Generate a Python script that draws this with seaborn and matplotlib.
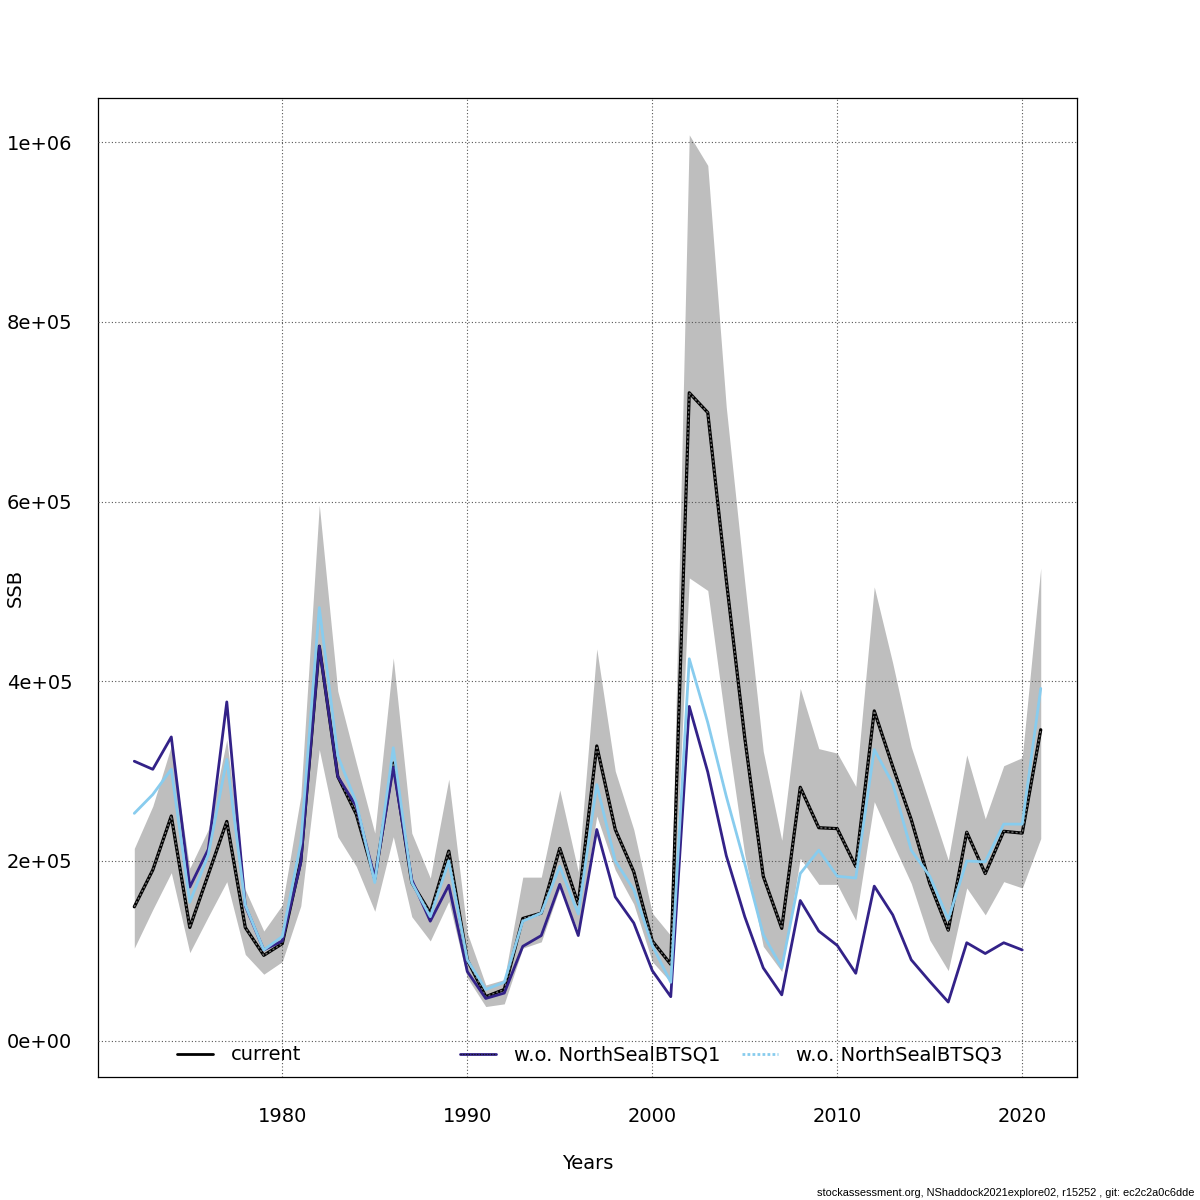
import numpy as np
import seaborn as sns
import matplotlib.pyplot as plt
from matplotlib.lines import Line2D
from matplotlib.legend import Legend

# SSB por año: estimación actual con intervalo, y dos corridas sin índices de la encuesta
years = list(range(1972, 2022))

current = [149000, 190000, 250000, 126000, 185000, 244000, 126000, 95000, 108000, 200000,
           439000, 294000, 252000, 180000, 309000, 176000, 142000, 211000, 90000, 49000,
           57000, 136000, 142000, 214000, 152000, 328000, 235000, 188000, 111000, 85000,
           721000, 699000, 513000, 337000, 183000, 125000, 282000, 237000, 236000, 194000,
           367000, 305000, 246000, 175000, 123000, 232000, 186000, 233000, 231000, 346000]

upper = [214000, 261000, 328000, 192000, 235000, 335000, 168000, 122000, 151000, 272000,
         596000, 389000, 309000, 231000, 426000, 231000, 181000, 291000, 120000, 62000,
         68000, 182000, 182000, 279000, 188000, 436000, 300000, 235000, 142000, 117000,
         1008000, 974000, 705000, 510000, 322000, 223000, 392000, 325000, 320000, 283000,
         505000, 420000, 327000, 264000, 201000, 318000, 247000, 306000, 315000, 526000]

lower = [103000, 146000, 187000, 98000, 138000, 177000, 96000, 74000, 88000, 150000,
         324000, 227000, 194000, 144000, 227000, 138000, 111000, 155000, 70000, 38000,
         41000, 103000, 110000, 170000, 122000, 250000, 190000, 152000, 88000, 65000,
         515000, 501000, 348000, 207000, 105000, 77000, 203000, 174000, 174000, 134000,
         266000, 220000, 175000, 112000, 78000, 170000, 140000, 177000, 170000, 225000]

wo_q1 = [311000, 302000, 338000, 171000, 213000, 377000, 150000, 101000, 111000, 198000,
         439000, 294000, 261000, 181000, 304000, 179000, 133000, 173000, 77000, 47000,
         53000, 105000, 117000, 174000, 117000, 235000, 160000, 131000, 78000, 49000,
         372000, 299000, 206000, 138000, 81000, 51000, 156000, 122000, 106000, 75000,
         172000, 140000, 90000, 66000, 43000, 109000, 97000, 109000, 101000]

wo_q3 = [253000, 274000, 302000, 154000, 207000, 313000, 151000, 101000, 116000, 220000,
         482000, 317000, 265000, 176000, 326000, 176000, 138000, 200000, 90000, 57000,
         65000, 133000, 142000, 194000, 141000, 285000, 200000, 168000, 106000, 65000,
         425000, 354000, 272000, 197000, 118000, 81000, 186000, 212000, 183000, 181000,
         324000, 286000, 212000, 183000, 135000, 200000, 199000, 241000, 241000, 392000]

ytick_pos = [0, 200000, 400000, 600000, 800000, 1000000]
ytick_labels = ["0e+00", "2e+05", "4e+05", "6e+05", "8e+05", "1e+06"]
xtick_pos = [1980, 1990, 2000, 2010, 2020]

col_q1 = "#332288"
col_q3 = "#88CCEE"

sns.set_style("white")
plt.rcParams['font.family'] = ['DejaVu Sans']
plt.rcParams['text.color'] = 'black'
plt.rcParams['axes.labelcolor'] = 'black'

fig = plt.figure(figsize=(12, 12), dpi=100)
ax = fig.add_axes([0.0817, 0.1025, 0.8158, 0.8158])

ax.fill_between(years, lower, upper, color="#BEBEBE", linewidth=0, zorder=1)

sns.lineplot(x=years, y=current, color="black", linewidth=2.3, ax=ax, zorder=3)
sns.lineplot(x=years, y=current, color="#707070", linewidth=1.0, linestyle=(0, (1.5, 1.5)), ax=ax, zorder=3)
sns.lineplot(x=years[:len(wo_q1)], y=wo_q1, color=col_q1, linewidth=2.0, ax=ax, zorder=3)
sns.lineplot(x=years, y=wo_q3, color=col_q3, linewidth=2.0, ax=ax, zorder=3)

ax.set_xlim(1970.04, 2022.96)
ax.set_ylim(-40400, 1049000)
ax.set_xticks(xtick_pos)
ax.set_xticklabels([str(y) for y in xtick_pos], fontsize=14)
ax.set_yticks(ytick_pos)
ax.set_yticklabels(ytick_labels, fontsize=14)
ax.tick_params(axis='x', direction='out', length=8.6, width=0.8, pad=13, colors='black')
ax.tick_params(axis='y', direction='out', length=8.6, width=0.8, pad=10, colors='black')

ax.set_axisbelow(False)
ax.grid(True, color="#555555", linestyle=(0, (1, 2)), linewidth=0.8)
for s in ax.spines.values():
    s.set_color("black")
    s.set_linewidth(0.9)

ax.set_xlabel("Years", fontsize=14, labelpad=20, color="black")
ax.set_ylabel("SSB", fontsize=14, color="black")
ax.yaxis.set_label_coords(-0.0745, 0.5)

# leyenda horizontal, tres entradas separadas
entries = [
    (Line2D([], [], color="black", linewidth=2), "current", 0.0807),
    ((Line2D([], [], color=col_q1, linewidth=2),
      Line2D([], [], color="#111111", linewidth=0.8, linestyle=(0, (1, 1.5)))), "w.o. NorthSealBTSQ1", 0.3698),
    (Line2D([], [], color=col_q3, linewidth=2, linestyle=(0, (1, 0.8))), "w.o. NorthSealBTSQ3", 0.6578),
]
for handle, label, xpos in entries:
    leg = Legend(ax, [handle], [label], loc="center left", bbox_to_anchor=(xpos, 0.0225),
                 frameon=False, fontsize=14, borderpad=0, borderaxespad=0,
                 handlelength=1.86, handletextpad=0.93, labelcolor="black")
    ax.add_artist(leg)

fig.text(0.995, 0.002, "stockassessment.org, NShaddock2021explore02, r15252 , git: ec2c2a0c6dde",
         ha="right", va="bottom", fontsize=7.9, color="black",
         family=["Liberation Sans", "DejaVu Sans"])

plt.savefig("out.png", dpi=100)
